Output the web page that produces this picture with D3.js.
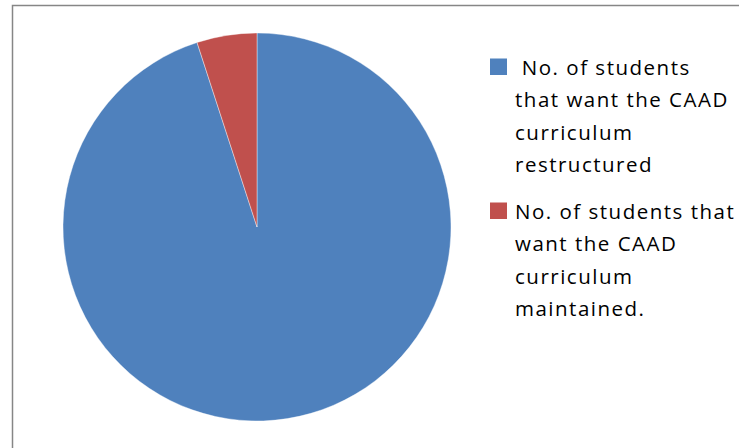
<!DOCTYPE html>
<html>
<head>
<meta charset="utf-8">
<script src="https://cdn.jsdelivr.net/npm/d3@7"></script>
<style>
  html, body { margin: 0; padding: 0; background: #fff; }
  svg { display: block; }
  .legend text {
    font-family: "Open Sans", Lato, sans-serif;
    font-size: 20.5px;
    letter-spacing: 1.5px;
    fill: #000;
  }
</style>
</head>
<body>
<svg id="chart" width="739" height="448"></svg>
<script>
// Survey responses on the CAAD curriculum
const categories = [
  "No. of students that want the CAAD curriculum restructured",
  "No. of students that want the CAAD curriculum maintained."
];
const values = [95, 5];
const colors = ["#4F81BD", "#C0504D"];
// Legend lines as wrapped in the legend box
const legendLines = [
  [" No. of students", "that want the CAAD", "curriculum", "restructured"],
  ["No. of students that", "want the CAAD", "curriculum", "maintained."]
];

const svg = d3.select("#chart");
const W = 739, H = 448;

// Chart area frame (left and top edges visible)
svg.append("path")
  .attr("d", `M12.5,${H} V5.5 H${W}`)
  .attr("fill", "none")
  .attr("stroke", "#868686")
  .attr("stroke-width", 1.5);

const cx = 257, cy = 227, r = 194;
const color = d3.scaleOrdinal().domain(categories).range(colors);

const pie = d3.pie().sort(null).value(d => d.value);
const arc = d3.arc().innerRadius(0).outerRadius(r);

const data = categories.map((c, i) => ({ name: c, value: values[i] }));

svg.append("g")
  .attr("transform", `translate(${cx},${cy})`)
  .selectAll("path")
  .data(pie(data))
  .join("path")
  .attr("d", arc)
  .attr("fill", d => color(d.data.name))
  .attr("stroke", "#ffffff")
  .attr("stroke-width", 0.4);

// Legend
const legend = svg.append("g").attr("class", "legend");
const entryTop = [58.5, 202.5];
const lineStep = 32.3;
legendLines.forEach((lines, i) => {
  const g = legend.append("g");
  g.append("rect")
    .attr("x", 490).attr("y", entryTop[i])
    .attr("width", 17).attr("height", 16.5)
    .attr("fill", colors[i]);
  lines.forEach((t, j) => {
    g.append("text")
      .attr("x", 515)
      .attr("y", entryTop[i] + 16.5 + j * lineStep)
      .attr("xml:space", "preserve")
      .style("white-space", "pre")
      .text(t);
  });
});
</script>
</body>
</html>
